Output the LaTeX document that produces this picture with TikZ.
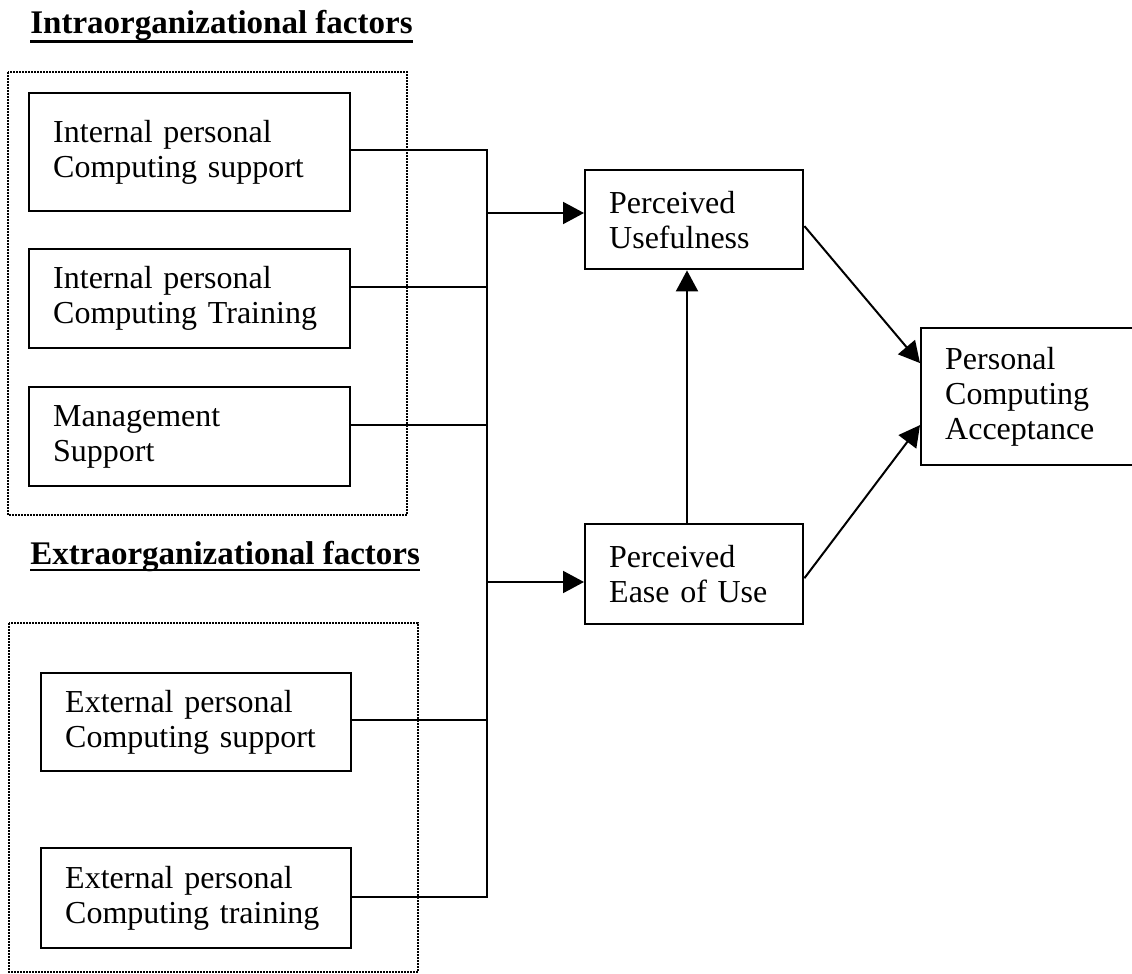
\documentclass[tikz,border=0pt]{standalone}
\usepackage{fontspec}
\setmainfont{Liberation Serif}
\usetikzlibrary{arrows.meta}

\newcommand\boxfont{\fontsize{16}{17.6}\selectfont}
\newcommand\headfont{\fontsize{16.5}{19}\selectfont\bfseries}

\tikzset{
  factorbox/.style={draw, line width=1.2pt, inner xsep=12pt, inner ysep=0pt,
                    align=left, anchor=north west, font=\boxfont},
  heading/.style={inner sep=0pt, anchor=base west, font=\headfont},
  uline/.style={line width=1.3pt},
  groupbox/.style={line width=0.9pt, dash pattern=on 0.9pt off 0.6pt},
  link/.style={line width=1pt},
  arr/.style={line width=1pt, -{Triangle[length=10.5pt,width=11pt]}},
}

\begin{document}
\begin{tikzpicture}[x=0.5pt, y=-0.5pt]
  \path[use as bounding box, fill=white] (0,0) rectangle (1132,974);

  % group headings
  \node[heading] (h1) at (30,34) {Intraorganizational factors};
  \draw[uline] ([yshift=-3.8pt]h1.base west) -- ([yshift=-3.8pt]h1.base east);
  \node[heading] (h2) at (30,564) {Extraorganizational factors};
  \draw[uline] ([yshift=-3pt]h2.base west) -- ([yshift=-3pt]h2.base east);

  % dotted group frames
  \draw[groupbox] (8,72) rectangle (407,515);
  \draw[groupbox] (9,623) rectangle (418,972);

  % intraorganizational factors
  \node[factorbox, text width=136.5pt, minimum height=59pt] (b1) at (28,92)
    {Internal personal\\Computing support};
  \node[factorbox, text width=136.5pt, minimum height=49.5pt] (b2) at (28,248)
    {Internal personal\\Computing Training};
  \node[factorbox, text width=136.5pt, minimum height=49.5pt] (b3) at (28,386)
    {Management\\Support};

  % extraorganizational factors
  \node[factorbox, text width=131pt, minimum height=49pt] (b4) at (40,672)
    {External personal\\Computing support};
  \node[factorbox, text width=131pt, minimum height=50pt] (b5) at (40,847)
    {External personal\\Computing training};

  % beliefs and acceptance
  \node[factorbox, text width=85pt, minimum height=49.5pt] (pu) at (584,169)
    {Perceived\\Usefulness};
  \node[factorbox, text width=85pt, minimum height=50pt] (peou) at (584,523)
    {Perceived\\Ease of Use};
  \node[factorbox, text width=82.5pt, minimum height=68.5pt] (pca) at (920,327)
    {Personal\\Computing\\Acceptance};

  % collecting bus
  \coordinate (t1) at (486.5,150);
  \coordinate (t2) at (486.5,287);
  \coordinate (t3) at (486.5,425);
  \coordinate (t4) at (486.5,720);
  \coordinate (t5) at (486.5,897);
  \coordinate (j1) at (486.5,213);
  \coordinate (j2) at (486.5,582);
  \coordinate (vx) at (687,0);

  \draw[link] (b1.east |- t1) -- (t1) -- (t5) -- (b5.east |- t5);
  \draw[link] (b2.east |- t2) -- (t2);
  \draw[link] (b3.east |- t3) -- (t3);
  \draw[link] (b4.east |- t4) -- (t4);

  \draw[arr] (j1) -- (j1 -| pu.west);
  \draw[arr] (j2) -- (j2 -| peou.west);
  \draw[arr] (peou.north -| vx) -- (pu.south -| vx);
  \draw[arr] ([yshift=-3.2pt]pu.east) -- ([yshift=16.8pt]pca.west);
  \draw[arr] ([yshift=-2pt]peou.east) -- ([yshift=-14.2pt]pca.west);
\end{tikzpicture}
\end{document}
